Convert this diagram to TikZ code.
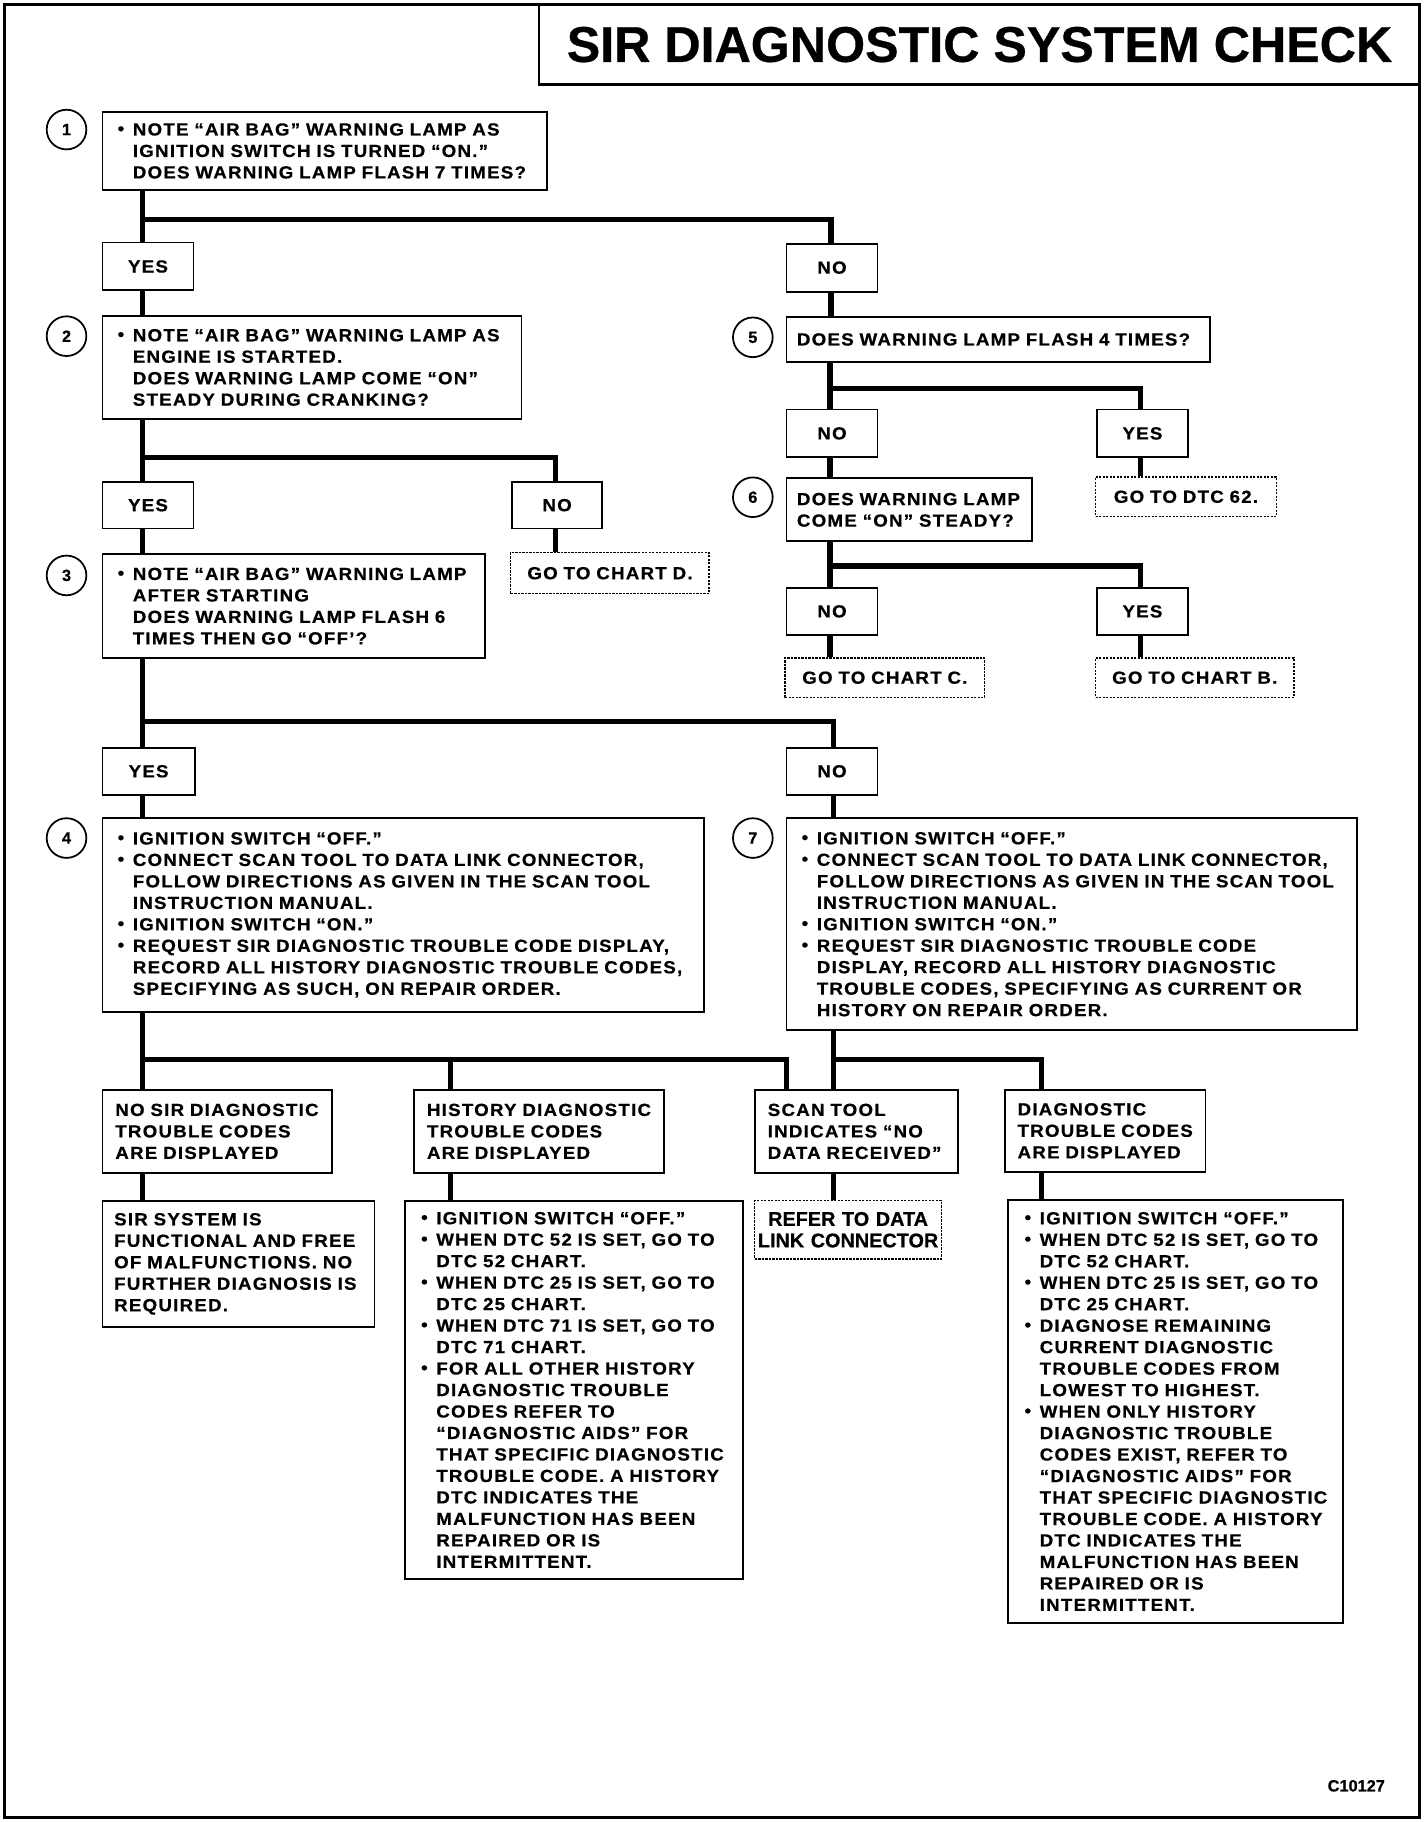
\documentclass[tikz,border=0pt]{standalone}
\usepackage{fontspec}
\usepackage{graphicx}
\setmainfont{Liberation Sans}
\newfontfamily\dfont{Liberation Sans}[FakeStretch=1.07,LetterSpace=7,FakeBold=0.6]
\newfontfamily\cfont{Liberation Sans}[FakeBold=0.6]
\newcommand\bult{\makebox[13pt][l]{\raisebox{0.05em}{\scalebox{1.0}{•}}}}
\newcommand\indl{\hspace*{13pt}}
% [style]{name}{pad}{x1}{y1}{x2}{y2}{text}
\newcommand\bx[8][]{%
 \pgfmathsetmacro\bxw{#6-#4}\pgfmathsetmacro\bxh{#7-#5}\pgfmathsetmacro\bxt{#6-#4-2*#3}%
 \node[box,anchor=north west,inner xsep=#3pt,minimum width=\bxw pt,minimum height=\bxh pt,text width=\bxt pt,#1] (#2) at (#4,#5) {#8};}
\tikzset{
 box/.style={draw,line width=1.6pt,align=left,inner ysep=0pt,font=\dfont\bfseries\fontsize{15}{18.4}\selectfont},
 yn/.style={align=center},
 dbox/.style={draw,line width=1.2pt,dash pattern=on 2pt off 1pt,align=center},
 conn/.style={line width=4.5pt},
 num/.style={circle,draw,line width=1.5pt,minimum size=34pt,inner sep=0pt,font=\cfont\bfseries\fontsize{14}{14}\selectfont},
}
\begin{document}
\begin{tikzpicture}[x=1pt,y=-1pt]
\useasboundingbox (0,0) rectangle (1220,1561);
\draw[line width=3pt] (4,4) rectangle (1216,1557);
\node[anchor=north west,minimum width=754pt,minimum height=68pt,inner sep=0pt,font=\cfont\bfseries\fontsize{43}{43}\selectfont] (title) at (462,4) {SIR DIAGNOSTIC SYSTEM CHECK};
\draw[line width=2pt] (title.north west) -- (title.south west) -- (title.south east);

% numbers
\node[num] (c1) at (57,111) {1};
\node[num] (c2) at (57,288) {2};
\node[num] (c3) at (57,493) {3};
\node[num] (c4) at (57,718) {4};
\node[num] (c5) at (645,289) {5};
\node[num] (c6) at (645,426) {6};
\node[num] (c7) at (645,718) {7};

% left column
\bx{b1}{13}{87}{95}{468}{162}{\mbox{\bult NOTE “AIR BAG” WARNING LAMP AS}\\\mbox{\indl IGNITION SWITCH IS TURNED “ON.”}\\\mbox{\indl DOES WARNING LAMP FLASH 7 TIMES?}}
\bx[yn]{y1}{4}{87}{207}{165}{248}{YES}
\bx[yn]{n1}{4}{673}{208}{751}{249}{NO}
\bx{b2}{13}{87}{270}{446}{358}{\mbox{\bult NOTE “AIR BAG” WARNING LAMP AS}\\\mbox{\indl ENGINE IS STARTED.}\\\mbox{\indl DOES WARNING LAMP COME “ON”}\\\mbox{\indl STEADY DURING CRANKING?}}
\bx[yn]{y2}{4}{87}{412}{165}{452}{YES}
\bx[yn]{n2}{4}{438}{412}{515}{452}{NO}
\bx[dbox]{cd}{4}{437}{473}{607}{508}{GO TO CHART D.}
\bx{b3}{13}{87}{474}{415}{563}{\mbox{\bult NOTE “AIR BAG” WARNING LAMP}\\\mbox{\indl AFTER STARTING}\\\mbox{\indl DOES WARNING LAMP FLASH 6}\\\mbox{\indl TIMES THEN GO “OFF’?}}
\bx[yn]{y3}{4}{87}{640}{166}{680}{YES}
\bx[yn]{n3}{4}{673}{640}{751}{680}{NO}
\bx{b4}{13}{87}{700}{602}{866}{\mbox{\bult IGNITION SWITCH “OFF.”}\\\mbox{\bult CONNECT SCAN TOOL TO DATA LINK CONNECTOR,}\\\mbox{\indl FOLLOW DIRECTIONS AS GIVEN IN THE SCAN TOOL}\\\mbox{\indl INSTRUCTION MANUAL.}\\\mbox{\bult IGNITION SWITCH “ON.”}\\\mbox{\bult REQUEST SIR DIAGNOSTIC TROUBLE CODE DISPLAY,}\\\mbox{\indl RECORD ALL HISTORY DIAGNOSTIC TROUBLE CODES,}\\\mbox{\indl SPECIFYING AS SUCH, ON REPAIR ORDER.}}

% right column
\bx{b5}{9}{673}{271}{1036}{309}{\mbox{DOES WARNING LAMP FLASH 4 TIMES?}}
\bx[yn]{n5}{4}{673}{350}{751}{391}{NO}
\bx[yn]{y5}{4}{939}{350}{1017}{391}{YES}
\bx[dbox]{d62}{4}{938}{408}{1093}{442}{GO TO DTC 62.}
\bx{b6}{9}{673}{409}{883}{463}{\mbox{DOES WARNING LAMP}\\\mbox{COME “ON” STEADY?}}
\bx[yn]{n6}{4}{673}{503}{751}{543}{NO}
\bx[yn]{y6}{4}{939}{503}{1017}{543}{YES}
\bx[dbox]{cc}{4}{672}{563}{843}{597}{GO TO CHART C.}
\bx[dbox]{cb}{4}{938}{563}{1108}{597}{GO TO CHART B.}
\bx{b7}{13}{673}{700}{1162}{882}{\mbox{\bult IGNITION SWITCH “OFF.”}\\\mbox{\bult CONNECT SCAN TOOL TO DATA LINK CONNECTOR,}\\\mbox{\indl FOLLOW DIRECTIONS AS GIVEN IN THE SCAN TOOL}\\\mbox{\indl INSTRUCTION MANUAL.}\\\mbox{\bult IGNITION SWITCH “ON.”}\\\mbox{\bult REQUEST SIR DIAGNOSTIC TROUBLE CODE}\\\mbox{\indl DISPLAY, RECORD ALL HISTORY DIAGNOSTIC}\\\mbox{\indl TROUBLE CODES, SPECIFYING AS CURRENT OR}\\\mbox{\indl HISTORY ON REPAIR ORDER.}}

% result row
\bx{r1}{11}{87}{933}{284}{1004}{\mbox{NO SIR DIAGNOSTIC}\\\mbox{TROUBLE CODES}\\\mbox{ARE DISPLAYED}}
\bx{r2}{11}{354}{933}{568}{1004}{\mbox{HISTORY DIAGNOSTIC}\\\mbox{TROUBLE CODES}\\\mbox{ARE DISPLAYED}}
\bx{r3}{11}{646}{933}{820}{1004}{\mbox{SCAN TOOL}\\\mbox{INDICATES “NO}\\\mbox{DATA RECEIVED”}}
\bx{r4}{11}{860}{933}{1032}{1003}{\mbox{DIAGNOSTIC}\\\mbox{TROUBLE CODES}\\\mbox{ARE DISPLAYED}}

\bx{s1}{10}{87}{1028}{320}{1136}{\mbox{SIR SYSTEM IS}\\\mbox{FUNCTIONAL AND FREE}\\\mbox{OF MALFUNCTIONS. NO}\\\mbox{FURTHER DIAGNOSIS IS}\\\mbox{REQUIRED.}}
\bx{s2}{14}{346}{1028}{636}{1352}{\mbox{\bult IGNITION SWITCH “OFF.”}\\\mbox{\bult WHEN DTC 52 IS SET, GO TO}\\\mbox{\indl DTC 52 CHART.}\\\mbox{\bult WHEN DTC 25 IS SET, GO TO}\\\mbox{\indl DTC 25 CHART.}\\\mbox{\bult WHEN DTC 71 IS SET, GO TO}\\\mbox{\indl DTC 71 CHART.}\\\mbox{\bult FOR ALL OTHER HISTORY}\\\mbox{\indl DIAGNOSTIC TROUBLE}\\\mbox{\indl CODES REFER TO}\\\mbox{\indl “DIAGNOSTIC AIDS” FOR}\\\mbox{\indl THAT SPECIFIC DIAGNOSTIC}\\\mbox{\indl TROUBLE CODE. A HISTORY}\\\mbox{\indl DTC INDICATES THE}\\\mbox{\indl MALFUNCTION HAS BEEN}\\\mbox{\indl REPAIRED OR IS}\\\mbox{\indl INTERMITTENT.}}
\bx[dbox,font=\cfont\bfseries\fontsize{17}{18.4}\selectfont]{s3}{2}{646}{1028}{806}{1078}{REFER TO DATA\\LINK CONNECTOR}
\bx{s4}{14}{863}{1027}{1150}{1390}{\mbox{\bult IGNITION SWITCH “OFF.”}\\\mbox{\bult WHEN DTC 52 IS SET, GO TO}\\\mbox{\indl DTC 52 CHART.}\\\mbox{\bult WHEN DTC 25 IS SET, GO TO}\\\mbox{\indl DTC 25 CHART.}\\\mbox{\bult DIAGNOSE REMAINING}\\\mbox{\indl CURRENT DIAGNOSTIC}\\\mbox{\indl TROUBLE CODES FROM}\\\mbox{\indl LOWEST TO HIGHEST.}\\\mbox{\bult WHEN ONLY HISTORY}\\\mbox{\indl DIAGNOSTIC TROUBLE}\\\mbox{\indl CODES EXIST, REFER TO}\\\mbox{\indl “DIAGNOSTIC AIDS” FOR}\\\mbox{\indl THAT SPECIFIC DIAGNOSTIC}\\\mbox{\indl TROUBLE CODE. A HISTORY}\\\mbox{\indl DTC INDICATES THE}\\\mbox{\indl MALFUNCTION HAS BEEN}\\\mbox{\indl REPAIRED OR IS}\\\mbox{\indl INTERMITTENT.}}

\node[font=\cfont\bfseries\fontsize{14}{14}\selectfont] (code) at (1162,1530) {C10127};

% junctions
\coordinate (j1) at (122,188); \coordinate (k1) at (712,188);
\coordinate (j2) at (122,392); \coordinate (k2) at (476,392);
\coordinate (j3) at (122,618); \coordinate (k3) at (714,618);
\coordinate (j5) at (711,333); \coordinate (k5) at (977,333);
\coordinate (j6) at (711,485); \coordinate (k6) at (977,485);
\coordinate (j4) at (122,908); \coordinate (m4) at (386,908); \coordinate (k4) at (674,908);
\coordinate (j7) at (714,908); \coordinate (k7) at (892,908);

\draw[conn] (b1.south -| j1) -- (y1.north -| j1);
\draw[conn] (j1) -- (k1) -- (n1.north -| k1);
\draw[conn] (y1.south -| j1) -- (b2.north -| j1);
\draw[conn] (n1.south -| k1) -- (b5.north -| k1);
\draw[conn] (b2.south -| j2) -- (y2.north -| j2);
\draw[conn] (j2) -- (k2) -- (n2.north -| k2);
\draw[conn] (n2.south -| k2) -- (cd.north -| k2);
\draw[conn] (y2.south -| j2) -- (b3.north -| j2);
\draw[conn] (b3.south -| j3) -- (y3.north -| j3);
\draw[conn] (j3) -- (k3) -- (n3.north -| k3);
\draw[conn] (y3.south -| j3) -- (b4.north -| j3);
\draw[conn] (n3.south -| k3) -- (b7.north -| k3);
\draw[conn] (b5.south -| j5) -- (n5.north -| j5);
\draw[conn] (j5) -- (k5) -- (y5.north -| k5);
\draw[conn] (y5.south -| k5) -- (d62.north -| k5);
\draw[conn] (n5.south -| j5) -- (b6.north -| j5);
\draw[conn] (b6.south -| j6) -- (n6.north -| j6);
\draw[conn] (j6) -- (k6) -- (y6.north -| k6);
\draw[conn] (n6.south -| j6) -- (cc.north -| j6);
\draw[conn] (y6.south -| k6) -- (cb.north -| k6);
\draw[conn] (b4.south -| j4) -- (r1.north -| j4);
\draw[conn] (j4) -- (k4) -- (r3.north -| k4);
\draw[conn] (m4) -- (r2.north -| m4);
\draw[conn] (b7.south -| j7) -- (r3.north -| j7);
\draw[conn] (j7) -- (k7) -- (r4.north -| k7);
\draw[conn] (r1.south -| j4) -- (s1.north -| j4);
\draw[conn] (r2.south -| m4) -- (s2.north -| m4);
\draw[conn] (r3.south -| j7) -- (s3.north -| j7);
\draw[conn] (r4.south -| k7) -- (s4.north -| k7);
\end{tikzpicture}
\end{document}
